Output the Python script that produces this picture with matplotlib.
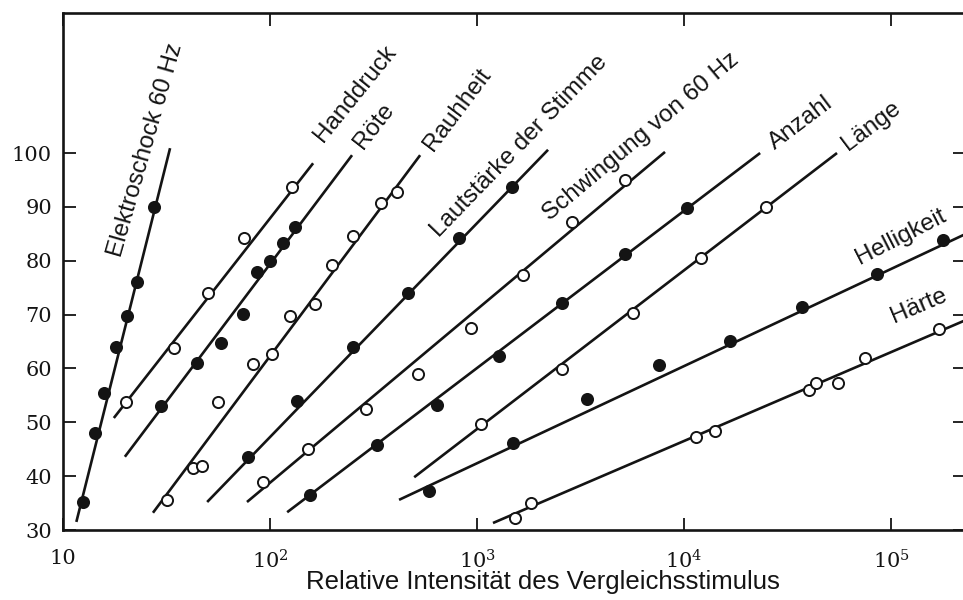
import numpy as np
import matplotlib
matplotlib.use("Agg")
import matplotlib.pyplot as plt
from matplotlib.ticker import FixedLocator, FixedFormatter, NullLocator

# ---- data ----
elektro_x = [12.5, 14.3, 15.8, 18.0, 20.4, 22.8, 27.5]
elektro_y = [35.2, 48.0, 55.4, 64.0, 69.7, 76.0, 90.0]
elektro_fit_x = [11.6, 32.9]
elektro_fit_y = [31.5, 100.9]

hand_x = [20.1, 34.4, 50.2, 74.9, 127.7]
hand_y = [53.8, 63.8, 74.0, 84.2, 93.7]
hand_fit_x = [17.6, 161.5]
hand_fit_y = [50.8, 98.1]

roete_x = [29.7, 44.4, 57.9, 74.1, 86.5, 100, 115.6, 132]
roete_y = [53.0, 61.0, 64.7, 70.1, 77.9, 79.9, 83.3, 86.3]
roete_fit_x = [19.9, 249]
roete_fit_y = [43.6, 99.6]

rauh_x = [31.8, 42.5, 46.9, 56.1, 82.8, 102, 125, 165, 199.6, 251, 343, 410]
rauh_y = [35.6, 41.5, 41.9, 53.8, 60.8, 62.7, 69.7, 72.0, 79.2, 84.6, 90.7, 92.8]
rauh_fit_x = [27.2, 531]
rauh_fit_y = [33.2, 99.6]

laut_x = [78.3, 135, 251, 464, 818, 1475]
laut_y = [43.6, 54.0, 64.0, 74.0, 84.2, 93.7]
laut_fit_x = [49.7, 2203]
laut_fit_y = [35.2, 100.6]

schw_x = [92.5, 152.6, 291, 518, 935, 1667, 2877, 5188]
schw_y = [38.9, 45.0, 52.5, 59.0, 67.5, 77.3, 87.2, 95.0]
schw_fit_x = [77.4, 8090]
schw_fit_y = [35.2, 100.2]

anz_x = [156, 329, 641, 1276, 2570, 5188, 10330]
anz_y = [36.5, 45.8, 53.2, 62.3, 72.1, 81.2, 89.8]
anz_fit_x = [121, 23300]
anz_fit_y = [33.3, 100.0]

laenge_x = [1045, 2570, 5675, 12080, 24900]
laenge_y = [49.7, 59.9, 70.3, 80.5, 90.0]
laenge_fit_x = [497, 54800]
laenge_fit_y = [39.8, 100.0]

hell_x = [586, 1493, 3396, 7570, 16670, 37150, 85500, 178000]
hell_y = [37.2, 46.2, 54.3, 60.6, 65.1, 71.4, 77.5, 83.8]
hell_fit_x = [420, 2.3e5]
hell_fit_y = [35.6, 85.0]

haerte_x = [1528, 1824, 11430, 14130, 40200, 43400, 55500, 74800, 170600]
haerte_y = [32.2, 35.0, 47.3, 48.4, 56.0, 57.3, 57.3, 61.9, 67.3]
haerte_fit_x = [1194, 2.3e5]
haerte_fit_y = [31.3, 69.0]

labels = ["Elektroschock 60 Hz", "Handdruck", "Röte", "Rauhheit",
          "Lautstärke der Stimme", "Schwingung von 60 Hz", "Anzahl",
          "Länge", "Helligkeit", "Härte"]
label_x = [25.2, 258, 318, 800, 1596, 6190, 36700, 80000, 111700, 136500]
label_y = [100.6, 111.0, 105.0, 108.0, 101.3, 103.0, 105.6, 105.0, 84.4, 71.6]
label_rot = [74, 51, 52, 53, 46, 40, 37, 37, 27, 23]
filled = [True, False, True, False, True, False, True, False, True, False]

xticks = [10, 1e2, 1e3, 1e4, 1e5]
xticklabels = ["10", r"$10^{2}$", r"$10^{3}$", r"$10^{4}$", r"$10^{5}$"]
yticks = [30, 40, 50, 60, 70, 80, 90, 100]
xlabel = "Relative Intensität des Vergleichsstimulus"

series = [
    (elektro_x, elektro_y, elektro_fit_x, elektro_fit_y),
    (hand_x, hand_y, hand_fit_x, hand_fit_y),
    (roete_x, roete_y, roete_fit_x, roete_fit_y),
    (rauh_x, rauh_y, rauh_fit_x, rauh_fit_y),
    (laut_x, laut_y, laut_fit_x, laut_fit_y),
    (schw_x, schw_y, schw_fit_x, schw_fit_y),
    (anz_x, anz_y, anz_fit_x, anz_fit_y),
    (laenge_x, laenge_y, laenge_fit_x, laenge_fit_y),
    (hell_x, hell_y, hell_fit_x, hell_fit_y),
    (haerte_x, haerte_y, haerte_fit_x, haerte_fit_y),
]

plt.rcParams["mathtext.fontset"] = "dejavuserif"

W, H = 963, 600
fig = plt.figure(figsize=(W / 100, H / 100), dpi=100)
left_px, right_px, top_px, bottom_px = 63, 965, 13, 530
ax = fig.add_axes([left_px / W, 1 - bottom_px / H,
                   (right_px - left_px) / W, (bottom_px - top_px) / H])

ax.set_xscale("log")
ax.set_xlim(10, 2.275e5)
ax.set_ylim(30, 126)

ink = "#141414"
for (px, py, fx, fy), fill in zip(series, filled):
    ax.plot(fx, fy, color=ink, lw=1.9, solid_capstyle="butt", zorder=2)
    ax.plot(px, py, linestyle="none", marker="o", markersize=8,
            markerfacecolor=ink if fill else "white",
            markeredgecolor=ink, markeredgewidth=1.4, zorder=3)

for t, lx, ly, r in zip(labels, label_x, label_y, label_rot):
    ax.text(lx, ly, t, rotation=r, rotation_mode="anchor", ha="center",
            va="center", fontsize=17.5, family="Liberation Sans", color=ink)

ax.xaxis.set_major_locator(FixedLocator(xticks))
ax.xaxis.set_major_formatter(FixedFormatter(xticklabels))
ax.xaxis.set_minor_locator(NullLocator())
ax.set_yticks(yticks)
ax.set_yticklabels([str(v) for v in yticks])

ax.tick_params(axis="both", which="major", direction="in", top=True,
               right=True, length=9, width=1.3, labelsize=15, colors=ink)
ax.tick_params(axis="x", pad=14)
ax.tick_params(axis="y", pad=8)
for lab in ax.get_xticklabels() + ax.get_yticklabels():
    lab.set_family("DejaVu Serif")

for s in ax.spines.values():
    s.set_linewidth(1.9)
    s.set_color(ink)

ax.set_xlabel(xlabel, fontsize=18.5, family="Liberation Sans", color=ink)
ax.xaxis.set_label_coords((543 - left_px) / (right_px - left_px), -0.078)

fig.savefig("out.png", dpi=100)
